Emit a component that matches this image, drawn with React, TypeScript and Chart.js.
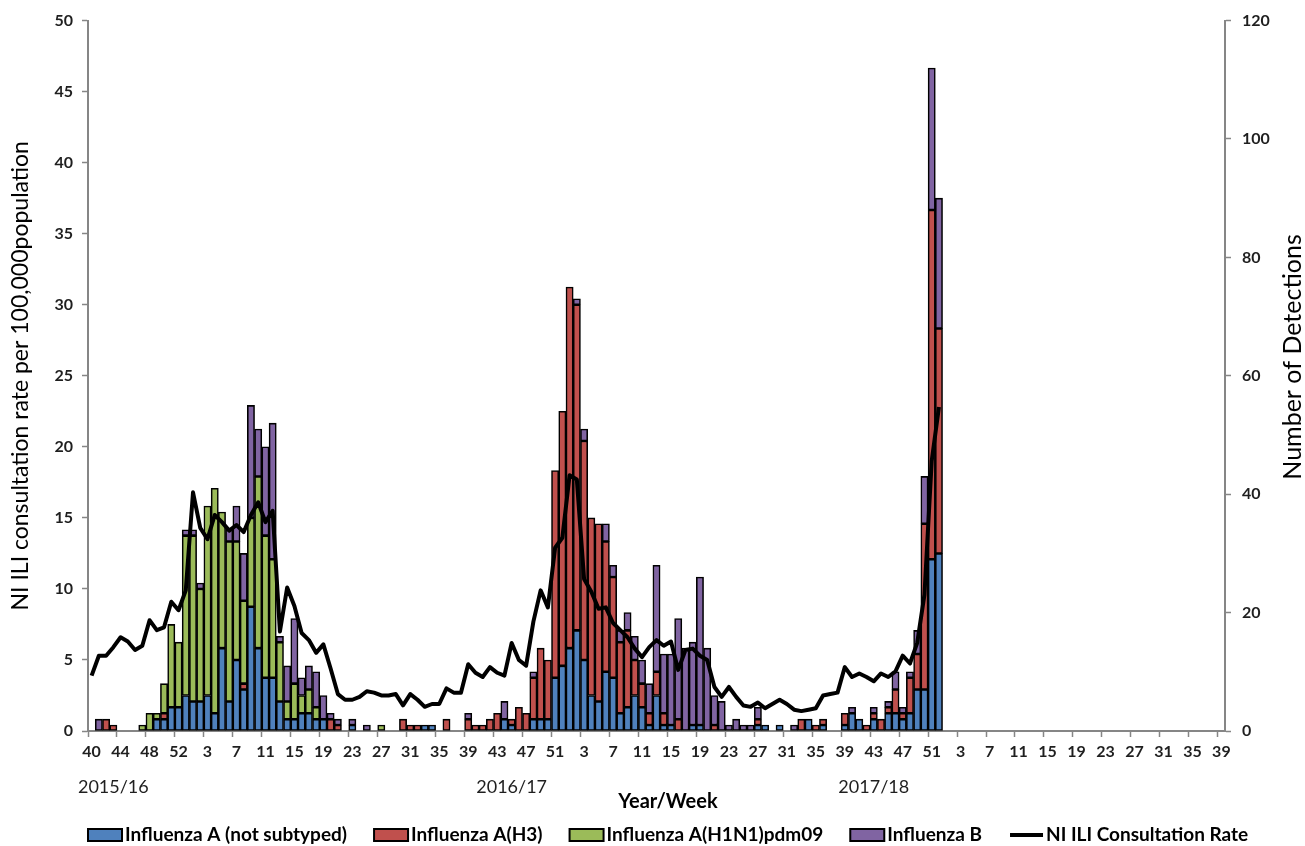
import { useEffect, useRef } from 'react';
import { Chart, registerables } from 'chart.js';

Chart.register(...registerables);

// ---------------- DATA ----------------
const weeks1516 = [40, 41, 42, 43, 44, 45, 46, 47, 48, 49, 50, 51, 52, 53, 1, 2, 3, 4, 5, 6, 7, 8, 9, 10, 11, 12, 13, 14, 15, 16, 17, 18, 19, 20, 21, 22, 23, 24, 25, 26, 27, 28, 29, 30, 31, 32, 33, 34, 35, 36, 37, 38, 39];
const weeks1617 = [40, 41, 42, 43, 44, 45, 46, 47, 48, 49, 50, 51, 52, 1, 2, 3, 4, 5, 6, 7, 8, 9, 10, 11, 12, 13, 14, 15, 16, 17, 18, 19, 20, 21, 22, 23, 24, 25, 26, 27, 28, 29, 30, 31, 32, 33, 34, 35, 36, 37, 38, 39];
const weeks1718 = [40, 41, 42, 43, 44, 45, 46, 47, 48, 49, 50, 51, 52, 1, 2, 3, 4, 5, 6, 7, 8, 9, 10, 11, 12, 13, 14, 15, 16, 17, 18, 19, 20, 21, 22, 23, 24, 25, 26, 27, 28, 29, 30, 31, 32, 33, 34, 35, 36, 37, 38, 39];
const seasonLabels = ['2015/16', '2016/17', '2017/18'];

const seriesNames = ['Influenza A (not subtyped)', 'Influenza A(H3)', 'Influenza A(H1N1)pdm09', 'Influenza B'];
const lineName = 'NI ILI Consultation Rate';

// Number of detections per week (right axis)
const fluANotSubtyped = [
  0, 0, 0, 0, 0, 0, 0, 0, 0, 2,
  2, 4, 4, 6, 5, 5, 6, 3, 14, 5,
  12, 7, 21, 14, 9, 9, 5, 2, 2, 3,
  3, 2, 2, 0, 0, 0, 1, 0, 0, 0,
  0, 0, 0, 0, 0, 0, 1, 1, 0, 0,
  0, 0, 0,
  0, 0, 0, 0, 2, 1, 0,
  0, 2, 2, 2, 9, 11, 14, 17, 12, 6,
  5, 10, 9, 3, 4, 6, 4, 1, 6, 1,
  1, 0, 0, 1, 1, 0, 0, 0, 0, 0,
  0, 0, 1, 1, 0, 1, 0, 0, 0, 2,
  0, 1, 0, 0, 1,
  3, 2, 0, 2, 0, 3, 3, 2, 3, 7, 7, 29, 30,
];
const fluAH3 = [
  0, 0, 2, 1, 0, 0, 0, 0, 0, 0,
  1, 0, 0, 0, 0, 0, 0, 0, 0, 0,
  0, 1, 0, 0, 0, 0, 0, 0, 0, 0,
  0, 0, 0, 2, 1, 0, 0, 0, 0, 0,
  0, 0, 0, 2, 1, 1, 0, 0, 0, 2,
  0, 0, 2,
  1, 1, 2, 3, 0, 1, 4,
  3, 7, 12, 10, 35, 43, 61, 55, 37, 30,
  30, 22, 17, 12, 13, 6, 4, 2, 4, 2,
  0, 2, 0, 0, 0, 0, 1, 0, 0, 0,
  0, 0, 1, 0, 0, 0, 0, 0, 2, 0,
  1, 1, 0, 0, 2,
  0, 0, 1, 1, 2, 1, 4, 1, 6, 6, 28, 59, 38,
];
const fluAH1N1 = [
  0, 0, 0, 0, 0, 0, 0, 1, 3, 1,
  5, 14, 11, 27, 28, 19, 32, 38, 23, 27,
  20, 14, 15, 29, 24, 20, 10, 3, 6, 3,
  4, 2, 0, 0, 0, 0, 0, 0, 0, 0,
  1, 0, 0, 0, 0, 0, 0, 0, 0, 0,
  0, 0, 0,
  0, 0, 0, 0, 0, 0, 0,
  0, 0, 0, 0, 0, 0, 0, 0, 0, 0,
  0, 0, 0, 0, 0, 0, 0, 0, 0, 0,
  0, 0, 0, 0, 0, 0, 0, 0, 0, 0,
  0, 0, 0, 0, 0, 0, 0, 0, 0, 0,
  0, 0, 0, 0, 0,
  0, 0, 0, 0, 0, 0, 0, 0, 0, 0, 0, 0, 0,
];
const fluB = [
  0, 2, 0, 0, 0, 0, 0, 0, 0, 0,
  0, 0, 0, 1, 1, 1, 0, 0, 0, 2,
  6, 8, 19, 8, 15, 23, 1, 6, 11, 3,
  4, 6, 4, 1, 1, 0, 1, 0, 1, 0,
  0, 0, 0, 0, 0, 0, 0, 0, 0, 0,
  0, 0, 1,
  0, 0, 0, 0, 3, 0, 0,
  0, 1, 0, 0, 0, 0, 0, 1, 2, 0,
  0, 3, 2, 2, 3, 4, 4, 5, 18, 10,
  12, 17, 14, 14, 25, 14, 5, 5, 1, 2,
  1, 1, 2, 0, 0, 0, 0, 1, 0, 0,
  0, 0, 0, 0, 0,
  1, 0, 0, 1, 0, 1, 3, 1, 1, 4, 8, 24, 22,
];

// ILI consultation rate per 100,000 (left axis)
const iliRate = [
  3.9, 5.3, 5.3, 5.9, 6.6, 6.3, 5.7, 6.0, 7.8, 7.1,
  7.3, 9.1, 8.5, 9.9, 16.8, 14.3, 13.5, 15.2, 14.7, 14.1,
  14.5, 14.0, 15.2, 16.1, 14.7, 15.5, 7.0, 10.1, 8.8, 6.9,
  6.4, 5.5, 6.1, 4.4, 2.6, 2.2, 2.2, 2.4, 2.8, 2.7,
  2.5, 2.5, 2.6, 1.8, 2.6, 2.2, 1.7, 1.9, 1.9, 3.0,
  2.7, 2.7, 4.7,
  4.1, 3.8, 4.5, 4.1, 3.9, 6.2, 5.0,
  4.6, 7.7, 9.9, 8.7, 12.9, 13.6, 18.0, 17.7, 10.7, 9.8,
  8.6, 8.7, 7.6, 7.1, 6.6, 5.8, 5.2, 5.9, 6.4, 6.0,
  6.3, 4.3, 5.7, 5.8, 5.3, 5.0, 3.1, 2.4, 3.1, 2.4,
  1.8, 1.7, 2.0, 1.6, 1.9, 2.2, 1.9, 1.5, 1.4, 1.5,
  1.6, 2.5, 2.6, 2.7, 4.5,
  3.8, 4.05, 3.8, 3.5, 4.05, 3.8, 4.2, 5.3, 4.75, 6.2, 9.6, 19.0, 22.8,
];

const leftTicks = { min: 0, max: 50, step: 5 };
const rightTicks = { min: 0, max: 120, step: 20 };

// ---------------- STYLE ----------------
const FONT = 'Lato, "Open Sans", "DejaVu Sans", sans-serif';
const TEXT = '#1f1f1f';
const AXIS = '#868686';
const seriesColors = ['#4F81BD', '#C0504D', '#9BBB59', '#8064A2'];

const weekLabels = [...weeks1516, ...weeks1617, ...weeks1718].map(String);
const seriesData = [fluANotSubtyped, fluAH3, fluAH1N1, fluB];

const W = 1305;
const H = 846;
const PLOT = { left: 88, right: 1225, top: 18, bottom: 731 };
const seasonAnchorIdx = [3, 58, 108];

const overlay = {
  id: 'overlay',
  afterDraw(chart: any) {
    const ctx = chart.ctx as CanvasRenderingContext2D;
    const xs = chart.scales.x;
    const area = chart.chartArea;
    ctx.save();

    // season labels
    ctx.fillStyle = TEXT;
    ctx.font = `18px ${FONT}`;
    ctx.textAlign = 'center';
    ctx.textBaseline = 'middle';
    seasonLabels.forEach((s, k) => {
      ctx.fillText(s, xs.getPixelForValue(seasonAnchorIdx[k]), 787);
    });

    // x axis title
    ctx.font = `bold 20px ${FONT}`;
    ctx.fillStyle = '#000';
    ctx.fillText('Year/Week', 668, 802);

    // right axis title (reads bottom to top)
    ctx.save();
    ctx.translate(1293, 357);
    ctx.rotate(-Math.PI / 2);
    ctx.font = `25px ${FONT}`;
    ctx.fillStyle = '#000';
    ctx.textAlign = 'center';
    ctx.textBaseline = 'middle';
    ctx.fillText('Number of Detections', 0, 0);
    ctx.restore();

    // legend
    ctx.font = `bold 19px ${FONT}`;
    ctx.textAlign = 'left';
    ctx.textBaseline = 'middle';
    const cy = 835;
    let x = area.left;
    const items = [
      ...seriesNames.map((n, i) => ({ label: n, color: seriesColors[i], line: false })),
      { label: lineName, color: '#000', line: true },
    ];
    items.forEach((it) => {
      if (it.line) {
        ctx.strokeStyle = '#000';
        ctx.lineWidth = 4;
        ctx.beginPath();
        ctx.moveTo(x + 1, cy);
        ctx.lineTo(x + 34, cy);
        ctx.stroke();
      } else {
        ctx.fillStyle = it.color;
        ctx.fillRect(x, cy - 6, 34, 12);
        ctx.strokeStyle = '#000';
        ctx.lineWidth = 2;
        ctx.strokeRect(x, cy - 6, 34, 12);
      }
      ctx.fillStyle = '#000';
      ctx.fillText(it.label, x + 37, cy);
      x += 37 + ctx.measureText(it.label).width + 27;
    });
    ctx.restore();
  },
};

export default function App() {
  const ref = useRef<HTMLCanvasElement>(null);

  useEffect(() => {
    const datasets: any[] = [
      {
        type: 'line',
        label: lineName,
        data: iliRate,
        yAxisID: 'y',
        borderColor: '#000',
        backgroundColor: '#000',
        borderWidth: 4,
        pointRadius: 0,
        tension: 0,
        borderJoinStyle: 'round',
        order: 0,
      },
      ...seriesData.map((d, i) => ({
        type: 'bar',
        label: seriesNames[i],
        data: d,
        yAxisID: 'y1',
        stack: 'det',
        backgroundColor: seriesColors[i],
        borderColor: '#000',
        borderWidth: 1.6,
        borderSkipped: false,
        barPercentage: 1,
        categoryPercentage: 1,
        order: 1,
      })),
    ];

    const chart = new Chart(ref.current!, {
      type: 'bar',
      data: { labels: weekLabels, datasets },
      plugins: [overlay],
      options: {
        animation: false,
        responsive: false,
        devicePixelRatio: 1,
        layout: { padding: { top: PLOT.top, left: 0, right: 0, bottom: 0 } },
        plugins: { legend: { display: false }, tooltip: { enabled: false } },
        scales: {
          x: {
            type: 'category',
            stacked: true,
            offset: true,
            afterFit: (s: any) => { s.height = H - PLOT.bottom; },
            grid: {
              display: true,
              drawOnChartArea: false,
              drawTicks: true,
              offset: true,
              tickLength: 6,
              tickWidth: 1.5,
              color: AXIS,
              tickColor: (c: any) => (c.index % 4 === 0 ? AXIS : 'rgba(0,0,0,0)'),
            },
            border: { display: true, color: AXIS, width: 2 },
            ticks: {
              autoSkip: false,
              maxRotation: 0,
              minRotation: 0,
              padding: 5,
              color: TEXT,
              font: { family: FONT, size: 16, weight: 'bold' },
              callback: (_v: any, i: number) => (i % 4 === 0 ? weekLabels[i] : ''),
            },
          },
          y: {
            position: 'left',
            min: leftTicks.min,
            max: leftTicks.max,
            afterFit: (s: any) => { s.width = PLOT.left; },
            grid: { drawOnChartArea: false, tickLength: 6, tickWidth: 1.5, color: AXIS },
            border: { display: true, color: AXIS, width: 2 },
            ticks: {
              stepSize: leftTicks.step,
              padding: 9,
              color: TEXT,
              font: { family: FONT, size: 16, weight: 'bold' },
            },
            title: {
              display: true,
              text: 'NI ILI consultation rate per 100,000population',
              color: '#000',
              font: { family: FONT, size: 23 },
              padding: { top: 7, bottom: 0 },
            },
          },
          y1: {
            position: 'right',
            stacked: true,
            min: rightTicks.min,
            max: rightTicks.max,
            afterFit: (s: any) => { s.width = W - PLOT.right; },
            grid: { drawOnChartArea: false, tickLength: 6, tickWidth: 1.5, color: AXIS },
            border: { display: true, color: AXIS, width: 2 },
            ticks: {
              stepSize: rightTicks.step,
              padding: 11,
              color: TEXT,
              font: { family: FONT, size: 16, weight: 'bold' },
            },
          },
        },
      } as any,
    });
    return () => chart.destroy();
  }, []);

  return (
    <div style={{ position: 'fixed', left: 0, top: 0, width: W, height: H, background: '#fff' }}>
      <canvas ref={ref} width={W} height={H} style={{ display: 'block', width: W, height: H }} />
    </div>
  );
}
